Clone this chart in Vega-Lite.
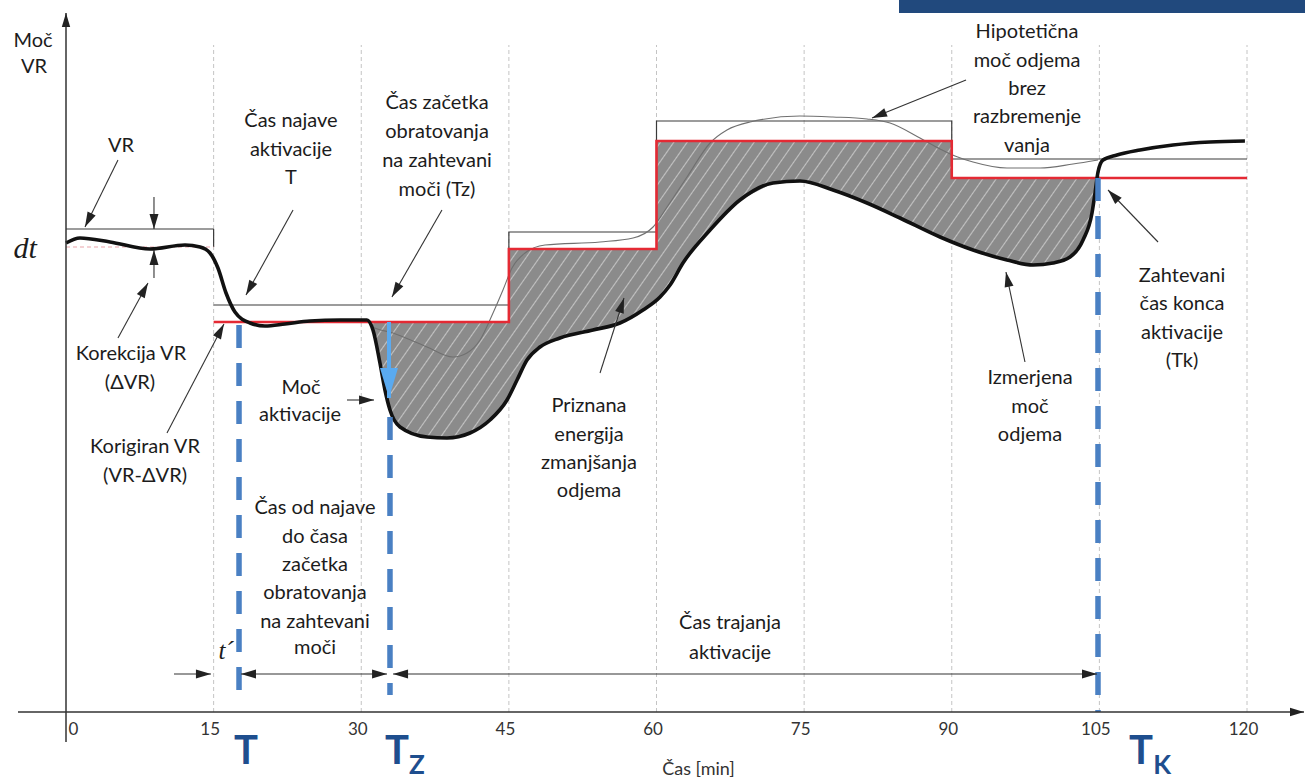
{
"$schema":"https://vega.github.io/schema/vega-lite/v6.json",
"width":1181,"height":700,
"autosize":{"type":"none"},
"padding":{"left":66,"top":12,"right":58,"bottom":67},
"background":"white",
"config":{"view":{"stroke":null}},
"datasets":{
"banner":[{"x":84.64,"tx":126,"y":699,"ty":712}],
"grid":[{"x":15,"y":0,"ty":667},{"x":30,"y":0,"ty":667},{"x":45,"y":0,"ty":667},{"x":60,"y":0,"ty":667},{"x":75,"y":0,"ty":667},{"x":90,"y":0,"ty":667},{"x":105,"y":0,"ty":667},{"x":120,"y":0,"ty":667}],
"area":[{"x":30.70,"y":390,"y2":390},{"x":31.19,"y":382,"y2":390},{"x":31.90,"y":349,"y2":390},{"x":32.41,"y":322,"y2":390},{"x":32.92,"y":302,"y2":390},{"x":33.94,"y":285,"y2":390},{"x":36.68,"y":275,"y2":390},{"x":38.71,"y":274,"y2":390},{"x":41.05,"y":279,"y2":390},{"x":43.08,"y":292,"y2":390},{"x":44.81,"y":312,"y2":390},{"x":44.99,"y":315,"y2":390},{"x":45.00,"y":316,"y2":463},{"x":45.83,"y":332,"y2":463},{"x":46.84,"y":352,"y2":463},{"x":48.16,"y":365,"y2":463},{"x":50.19,"y":374,"y2":463},{"x":53.55,"y":382,"y2":463},{"x":56.29,"y":389,"y2":463},{"x":58.63,"y":402,"y2":463},{"x":59.99,"y":412,"y2":463},{"x":60.00,"y":412,"y2":571},{"x":60.36,"y":415,"y2":571},{"x":61.38,"y":427,"y2":571},{"x":62.69,"y":449,"y2":571},{"x":65.44,"y":482,"y2":571},{"x":68.48,"y":512,"y2":571},{"x":71.84,"y":529,"y2":571},{"x":74.58,"y":531,"y2":571},{"x":77.93,"y":522,"y2":571},{"x":81.39,"y":509,"y2":571},{"x":84.74,"y":494,"y2":571},{"x":88.81,"y":475,"y2":571},{"x":89.99,"y":470,"y2":571},{"x":90.00,"y":470,"y2":534},{"x":92.16,"y":462,"y2":534},{"x":95.61,"y":452,"y2":534},{"x":98.26,"y":447,"y2":534},{"x":100.29,"y":449,"y2":534},{"x":102.02,"y":455,"y2":534},{"x":103.34,"y":472,"y2":534},{"x":104.25,"y":499,"y2":534},{"x":104.56,"y":519,"y2":534},{"x":104.77,"y":534,"y2":534}],
"upper":[{"i":0,"x":15,"y":407},{"i":1,"x":45,"y":407},{"i":2,"x":45,"y":480},{"i":3,"x":60,"y":480},{"i":4,"x":60,"y":591},{"i":5,"x":90,"y":591},{"i":6,"x":90,"y":553},{"i":7,"x":120,"y":553}],
"vr":[{"x":0,"y":483,"tx":15,"ty":483},{"x":15,"y":483,"tx":15,"ty":465}],
"pink":[{"x":0,"y":465,"tx":15,"ty":465}],
"hypo":[{"x":30.89,"y":390},{"x":31.19,"y":385},{"x":33.23,"y":379},{"x":36.68,"y":365},{"x":39.32,"y":355},{"x":40.74,"y":359},{"x":42.07,"y":372},{"x":43.39,"y":399},{"x":44.40,"y":422},{"x":45.32,"y":444},{"x":46.64,"y":459},{"x":48.67,"y":467},{"x":54.26,"y":470},{"x":57.62,"y":474},{"x":59.65,"y":485},{"x":61.07,"y":505},{"x":63.10,"y":535},{"x":65.44,"y":569},{"x":67.16,"y":582},{"x":69.50,"y":590},{"x":74.58,"y":596},{"x":77.93,"y":595},{"x":81.39,"y":593},{"x":83.73,"y":589},{"x":86.77,"y":574},{"x":88.81,"y":563},{"x":90.33,"y":556},{"x":92.16,"y":550},{"x":95.61,"y":544},{"x":98.97,"y":544},{"x":102.32,"y":548},{"x":104.86,"y":552}],
"red":[{"i":0,"x":15,"y":390},{"i":1,"x":45,"y":390},{"i":2,"x":45,"y":463},{"i":3,"x":60,"y":463},{"i":4,"x":60,"y":571},{"i":5,"x":90,"y":571},{"i":6,"x":90,"y":534},{"i":7,"x":120,"y":534}],
"meas":[{"x":0,"y":469},{"x":1.42,"y":474},{"x":4.47,"y":470},{"x":8.54,"y":463},{"x":12.09,"y":467},{"x":13.62,"y":465},{"x":14.63,"y":459},{"x":15.44,"y":444},{"x":16.26,"y":419},{"x":17.17,"y":400},{"x":18.70,"y":389},{"x":20.22,"y":386},{"x":22.25,"y":388},{"x":24.79,"y":391},{"x":27.84,"y":392},{"x":30.58,"y":392},{"x":31.19,"y":382},{"x":31.90,"y":349},{"x":32.41,"y":322},{"x":32.92,"y":302},{"x":33.94,"y":285},{"x":36.68,"y":275},{"x":38.71,"y":274},{"x":41.05,"y":279},{"x":43.08,"y":292},{"x":44.81,"y":312},{"x":45.83,"y":332},{"x":46.84,"y":352},{"x":48.16,"y":365},{"x":50.19,"y":374},{"x":53.55,"y":382},{"x":56.29,"y":389},{"x":58.63,"y":402},{"x":60.36,"y":415},{"x":61.38,"y":427},{"x":62.69,"y":449},{"x":65.44,"y":482},{"x":68.48,"y":512},{"x":71.84,"y":529},{"x":74.58,"y":531},{"x":77.93,"y":522},{"x":81.39,"y":509},{"x":84.74,"y":494},{"x":88.81,"y":475},{"x":92.16,"y":462},{"x":95.61,"y":452},{"x":98.26,"y":447},{"x":100.29,"y":449},{"x":102.02,"y":455},{"x":103.34,"y":472},{"x":104.25,"y":499},{"x":104.56,"y":519},{"x":104.86,"y":540},{"x":105.37,"y":552},{"x":106.79,"y":557},{"x":109.13,"y":562},{"x":112.48,"y":567},{"x":116.24,"y":570},{"x":119.79,"y":571}],
"blines":[{"x":17.58,"y":387,"ty":22},{"x":32.92,"y":295,"ty":17},{"x":104.86,"y":534,"ty":0}],
"arrows":[{"x":1.93,"y":485,"tx":5.28,"ty":552},{"x":8.94,"y":483,"tx":8.94,"ty":515},{"x":8.94,"y":462,"tx":8.94,"ty":434},{"x":8.33,"y":429,"tx":5.28,"ty":374},{"x":16.05,"y":388,"tx":10.26,"ty":279},{"x":18.29,"y":417,"tx":23.07,"ty":502},{"x":33.12,"y":415,"tx":38.20,"ty":502},{"x":31.30,"y":312,"tx":28.55,"ty":312},{"x":56.70,"y":414,"tx":54.26,"ty":339},{"x":81.90,"y":594,"tx":91.45,"ty":632},{"x":95.51,"y":440,"tx":97.44,"ty":350},{"x":105.88,"y":522,"tx":110.96,"ty":470},{"x":14.73,"y":38,"tx":10.97,"ty":38},{"x":17.78,"y":38,"tx":25.2,"ty":38},{"x":32.62,"y":38,"tx":25.2,"ty":38},{"x":33.23,"y":38,"tx":64.42,"ty":38},{"x":104.76,"y":38,"tx":64.42,"ty":38}],
"axes":[{"x":125.79,"y":0,"tx":-4.88,"ty":0},{"x":0,"y":699,"tx":0,"ty":-30}],
"blue":[{"x":32.82,"y":314,"tx":32.82,"ty":390}],
"texts":[{"x":-3.35,"y":671,"label":"Moč"},{"x":-3.25,"y":645,"label":"VR"},{"x":5.59,"y":566,"label":"VR"},{"x":22.86,"y":591,"label":"Čas najave"},{"x":22.86,"y":562,"label":"aktivacije"},{"x":22.86,"y":534,"label":"T"},{"x":37.70,"y":609,"label":"Čas začetka"},{"x":37.70,"y":580,"label":"obratovanja"},{"x":37.70,"y":551,"label":"na zahtevani"},{"x":37.70,"y":522,"label":"moči (Tz)"},{"x":6.60,"y":358,"label":"Korekcija VR"},{"x":6.50,"y":329,"label":"(ΔVR)"},{"x":8.03,"y":265,"label":"Korigiran VR"},{"x":8.03,"y":236,"label":"(VR-ΔVR)"},{"x":23.88,"y":324,"label":"Moč"},{"x":23.78,"y":297,"label":"aktivacije"},{"x":53.14,"y":306,"label":"Priznana"},{"x":53.14,"y":277,"label":"energija"},{"x":53.14,"y":249,"label":"zmanjšanja"},{"x":53.14,"y":221,"label":"odjema"},{"x":97.65,"y":680,"label":"Hipotetična"},{"x":97.65,"y":651,"label":"moč odjema"},{"x":97.65,"y":623,"label":"brez"},{"x":97.65,"y":595,"label":"razbremenje"},{"x":97.65,"y":566,"label":"vanja"},{"x":97.95,"y":334,"label":"Izmerjena"},{"x":97.95,"y":305,"label":"moč"},{"x":97.95,"y":277,"label":"odjema"},{"x":113.40,"y":436,"label":"Zahtevani"},{"x":113.40,"y":408,"label":"čas konca"},{"x":113.40,"y":379,"label":"aktivacije"},{"x":113.40,"y":351,"label":"(Tk)"},{"x":25.30,"y":204,"label":"Čas od najave"},{"x":25.30,"y":175,"label":"do časa"},{"x":25.30,"y":147,"label":"začetka"},{"x":25.30,"y":119,"label":"obratovanja"},{"x":25.30,"y":90,"label":"na zahtevani"},{"x":25.30,"y":64,"label":"moči"},{"x":67.47,"y":89,"label":"Čas trajanja"},{"x":67.47,"y":59,"label":"aktivacije"}],
"tprime":[{"x":16.26,"y":61,"label":"t´"}],
"dt":[{"x":-2.95,"y":463,"label":"dt"}],
"big":[{"x":18.29,"y":-40,"label":"T"},{"x":33.63,"y":-40,"label":"T"},{"x":109.23,"y":-40,"label":"T"}],
"sub":[{"x":35.66,"y":-54,"label":"Z"},{"x":111.37,"y":-54,"label":"K"}]
},
"encoding":{
"x":{"field":"x","type":"quantitative","scale":{"domain":[0,120],"nice":false,"zero":false},
"axis":{"values":[0,15,30,45,60,75,90,105,120],"domain":false,"ticks":false,"grid":false,"labelFlush":false,"labelOverlap":false,"labelFont":"Lato","labelFontSize":17,"labelColor":"#333333","labelPadding":9,
"labelOffset":{"condition":{"test":"datum.value === 0","value":2},"value":-4},
"labelAlign":{"condition":{"test":"datum.value === 0","value":"left"},"value":"center"},
"title":"Čas [min]","titleFont":"Lato","titleFontSize":18,"titleFontWeight":"normal","titleColor":"#333333","titleX":632,"titleY":57,"titleBaseline":"middle","titleAlign":"center"}},
"y":{"field":"y","type":"quantitative","scale":{"domain":[0,700],"nice":false,"zero":false},"axis":null}
},
"layer":[
{"data":{"name":"banner"},"mark":{"type":"rect","color":"#21497d"},"encoding":{"x2":{"field":"tx"},"y2":{"field":"ty"}}},
{"data":{"name":"grid"},"mark":{"type":"rule","color":"#c4c4c4","strokeWidth":1,"strokeDash":[4,3]},"encoding":{"y2":{"field":"ty"}}},
{"data":{"name":"area"},"mark":{"type":"area","interpolate":"linear","color":{"gradient":"linear","x1":0,"y1":0,"x2":1.1886,"y2":0.3391,"stops":[
{"offset":0,"color":"#8b8b8b"},{"offset":0.0114,"color":"#8b8b8b"},{"offset":0.0129,"color":"#c2c2c2"},
{"offset":0.0143,"color":"#8b8b8b"},{"offset":0.0257,"color":"#8b8b8b"},{"offset":0.0271,"color":"#c2c2c2"},
{"offset":0.0286,"color":"#8b8b8b"},{"offset":0.0400,"color":"#8b8b8b"},{"offset":0.0414,"color":"#c2c2c2"},
{"offset":0.0429,"color":"#8b8b8b"},{"offset":0.0543,"color":"#8b8b8b"},{"offset":0.0557,"color":"#c2c2c2"},
{"offset":0.0571,"color":"#8b8b8b"},{"offset":0.0686,"color":"#8b8b8b"},{"offset":0.0700,"color":"#c2c2c2"},
{"offset":0.0714,"color":"#8b8b8b"},{"offset":0.0829,"color":"#8b8b8b"},{"offset":0.0843,"color":"#c2c2c2"},
{"offset":0.0857,"color":"#8b8b8b"},{"offset":0.0971,"color":"#8b8b8b"},{"offset":0.0986,"color":"#c2c2c2"},
{"offset":0.1000,"color":"#8b8b8b"},{"offset":0.1114,"color":"#8b8b8b"},{"offset":0.1129,"color":"#c2c2c2"},
{"offset":0.1143,"color":"#8b8b8b"},{"offset":0.1257,"color":"#8b8b8b"},{"offset":0.1271,"color":"#c2c2c2"},
{"offset":0.1286,"color":"#8b8b8b"},{"offset":0.1400,"color":"#8b8b8b"},{"offset":0.1414,"color":"#c2c2c2"},
{"offset":0.1429,"color":"#8b8b8b"},{"offset":0.1543,"color":"#8b8b8b"},{"offset":0.1557,"color":"#c2c2c2"},
{"offset":0.1571,"color":"#8b8b8b"},{"offset":0.1686,"color":"#8b8b8b"},{"offset":0.1700,"color":"#c2c2c2"},
{"offset":0.1714,"color":"#8b8b8b"},{"offset":0.1829,"color":"#8b8b8b"},{"offset":0.1843,"color":"#c2c2c2"},
{"offset":0.1857,"color":"#8b8b8b"},{"offset":0.1971,"color":"#8b8b8b"},{"offset":0.1986,"color":"#c2c2c2"},
{"offset":0.2000,"color":"#8b8b8b"},{"offset":0.2114,"color":"#8b8b8b"},{"offset":0.2129,"color":"#c2c2c2"},
{"offset":0.2143,"color":"#8b8b8b"},{"offset":0.2257,"color":"#8b8b8b"},{"offset":0.2271,"color":"#c2c2c2"},
{"offset":0.2286,"color":"#8b8b8b"},{"offset":0.2400,"color":"#8b8b8b"},{"offset":0.2414,"color":"#c2c2c2"},
{"offset":0.2429,"color":"#8b8b8b"},{"offset":0.2543,"color":"#8b8b8b"},{"offset":0.2557,"color":"#c2c2c2"},
{"offset":0.2571,"color":"#8b8b8b"},{"offset":0.2686,"color":"#8b8b8b"},{"offset":0.2700,"color":"#c2c2c2"},
{"offset":0.2714,"color":"#8b8b8b"},{"offset":0.2829,"color":"#8b8b8b"},{"offset":0.2843,"color":"#c2c2c2"},
{"offset":0.2857,"color":"#8b8b8b"},{"offset":0.2971,"color":"#8b8b8b"},{"offset":0.2986,"color":"#c2c2c2"},
{"offset":0.3000,"color":"#8b8b8b"},{"offset":0.3114,"color":"#8b8b8b"},{"offset":0.3129,"color":"#c2c2c2"},
{"offset":0.3143,"color":"#8b8b8b"},{"offset":0.3257,"color":"#8b8b8b"},{"offset":0.3271,"color":"#c2c2c2"},
{"offset":0.3286,"color":"#8b8b8b"},{"offset":0.3400,"color":"#8b8b8b"},{"offset":0.3414,"color":"#c2c2c2"},
{"offset":0.3429,"color":"#8b8b8b"},{"offset":0.3543,"color":"#8b8b8b"},{"offset":0.3557,"color":"#c2c2c2"},
{"offset":0.3571,"color":"#8b8b8b"},{"offset":0.3686,"color":"#8b8b8b"},{"offset":0.3700,"color":"#c2c2c2"},
{"offset":0.3714,"color":"#8b8b8b"},{"offset":0.3829,"color":"#8b8b8b"},{"offset":0.3843,"color":"#c2c2c2"},
{"offset":0.3857,"color":"#8b8b8b"},{"offset":0.3971,"color":"#8b8b8b"},{"offset":0.3986,"color":"#c2c2c2"},
{"offset":0.4000,"color":"#8b8b8b"},{"offset":0.4114,"color":"#8b8b8b"},{"offset":0.4129,"color":"#c2c2c2"},
{"offset":0.4143,"color":"#8b8b8b"},{"offset":0.4257,"color":"#8b8b8b"},{"offset":0.4271,"color":"#c2c2c2"},
{"offset":0.4286,"color":"#8b8b8b"},{"offset":0.4400,"color":"#8b8b8b"},{"offset":0.4414,"color":"#c2c2c2"},
{"offset":0.4429,"color":"#8b8b8b"},{"offset":0.4543,"color":"#8b8b8b"},{"offset":0.4557,"color":"#c2c2c2"},
{"offset":0.4571,"color":"#8b8b8b"},{"offset":0.4686,"color":"#8b8b8b"},{"offset":0.4700,"color":"#c2c2c2"},
{"offset":0.4714,"color":"#8b8b8b"},{"offset":0.4829,"color":"#8b8b8b"},{"offset":0.4843,"color":"#c2c2c2"},
{"offset":0.4857,"color":"#8b8b8b"},{"offset":0.4971,"color":"#8b8b8b"},{"offset":0.4986,"color":"#c2c2c2"},
{"offset":0.5000,"color":"#8b8b8b"},{"offset":0.5114,"color":"#8b8b8b"},{"offset":0.5129,"color":"#c2c2c2"},
{"offset":0.5143,"color":"#8b8b8b"},{"offset":0.5257,"color":"#8b8b8b"},{"offset":0.5271,"color":"#c2c2c2"},
{"offset":0.5286,"color":"#8b8b8b"},{"offset":0.5400,"color":"#8b8b8b"},{"offset":0.5414,"color":"#c2c2c2"},
{"offset":0.5429,"color":"#8b8b8b"},{"offset":0.5543,"color":"#8b8b8b"},{"offset":0.5557,"color":"#c2c2c2"},
{"offset":0.5571,"color":"#8b8b8b"},{"offset":0.5686,"color":"#8b8b8b"},{"offset":0.5700,"color":"#c2c2c2"},
{"offset":0.5714,"color":"#8b8b8b"},{"offset":0.5829,"color":"#8b8b8b"},{"offset":0.5843,"color":"#c2c2c2"},
{"offset":0.5857,"color":"#8b8b8b"},{"offset":0.5971,"color":"#8b8b8b"},{"offset":0.5986,"color":"#c2c2c2"},
{"offset":0.6000,"color":"#8b8b8b"},{"offset":0.6114,"color":"#8b8b8b"},{"offset":0.6129,"color":"#c2c2c2"},
{"offset":0.6143,"color":"#8b8b8b"},{"offset":0.6257,"color":"#8b8b8b"},{"offset":0.6271,"color":"#c2c2c2"},
{"offset":0.6286,"color":"#8b8b8b"},{"offset":0.6400,"color":"#8b8b8b"},{"offset":0.6414,"color":"#c2c2c2"},
{"offset":0.6429,"color":"#8b8b8b"},{"offset":0.6543,"color":"#8b8b8b"},{"offset":0.6557,"color":"#c2c2c2"},
{"offset":0.6571,"color":"#8b8b8b"},{"offset":0.6686,"color":"#8b8b8b"},{"offset":0.6700,"color":"#c2c2c2"},
{"offset":0.6714,"color":"#8b8b8b"},{"offset":0.6829,"color":"#8b8b8b"},{"offset":0.6843,"color":"#c2c2c2"},
{"offset":0.6857,"color":"#8b8b8b"},{"offset":0.6971,"color":"#8b8b8b"},{"offset":0.6986,"color":"#c2c2c2"},
{"offset":0.7000,"color":"#8b8b8b"},{"offset":0.7114,"color":"#8b8b8b"},{"offset":0.7129,"color":"#c2c2c2"},
{"offset":0.7143,"color":"#8b8b8b"},{"offset":0.7257,"color":"#8b8b8b"},{"offset":0.7271,"color":"#c2c2c2"},
{"offset":0.7286,"color":"#8b8b8b"},{"offset":0.7400,"color":"#8b8b8b"},{"offset":0.7414,"color":"#c2c2c2"},
{"offset":0.7429,"color":"#8b8b8b"},{"offset":0.7543,"color":"#8b8b8b"},{"offset":0.7557,"color":"#c2c2c2"},
{"offset":0.7571,"color":"#8b8b8b"},{"offset":0.7686,"color":"#8b8b8b"},{"offset":0.7700,"color":"#c2c2c2"},
{"offset":0.7714,"color":"#8b8b8b"},{"offset":0.7829,"color":"#8b8b8b"},{"offset":0.7843,"color":"#c2c2c2"},
{"offset":0.7857,"color":"#8b8b8b"},{"offset":0.7971,"color":"#8b8b8b"},{"offset":0.7986,"color":"#c2c2c2"},
{"offset":0.8000,"color":"#8b8b8b"},{"offset":0.8114,"color":"#8b8b8b"},{"offset":0.8129,"color":"#c2c2c2"},
{"offset":0.8143,"color":"#8b8b8b"},{"offset":0.8257,"color":"#8b8b8b"},{"offset":0.8271,"color":"#c2c2c2"},
{"offset":0.8286,"color":"#8b8b8b"},{"offset":0.8400,"color":"#8b8b8b"},{"offset":0.8414,"color":"#c2c2c2"},
{"offset":0.8429,"color":"#8b8b8b"},{"offset":0.8543,"color":"#8b8b8b"},{"offset":0.8557,"color":"#c2c2c2"},
{"offset":0.8571,"color":"#8b8b8b"},{"offset":0.8686,"color":"#8b8b8b"},{"offset":0.8700,"color":"#c2c2c2"},
{"offset":0.8714,"color":"#8b8b8b"},{"offset":0.8829,"color":"#8b8b8b"},{"offset":0.8843,"color":"#c2c2c2"},
{"offset":0.8857,"color":"#8b8b8b"},{"offset":0.8971,"color":"#8b8b8b"},{"offset":0.8986,"color":"#c2c2c2"},
{"offset":0.9000,"color":"#8b8b8b"},{"offset":0.9114,"color":"#8b8b8b"},{"offset":0.9129,"color":"#c2c2c2"},
{"offset":0.9143,"color":"#8b8b8b"},{"offset":0.9257,"color":"#8b8b8b"},{"offset":0.9271,"color":"#c2c2c2"},
{"offset":0.9286,"color":"#8b8b8b"},{"offset":0.9400,"color":"#8b8b8b"},{"offset":0.9414,"color":"#c2c2c2"},
{"offset":0.9429,"color":"#8b8b8b"},{"offset":0.9543,"color":"#8b8b8b"},{"offset":0.9557,"color":"#c2c2c2"},
{"offset":0.9571,"color":"#8b8b8b"},{"offset":0.9686,"color":"#8b8b8b"},{"offset":0.9700,"color":"#c2c2c2"},
{"offset":0.9714,"color":"#8b8b8b"},{"offset":0.9829,"color":"#8b8b8b"},{"offset":0.9843,"color":"#c2c2c2"},
{"offset":0.9857,"color":"#8b8b8b"},{"offset":0.9971,"color":"#8b8b8b"},{"offset":0.9986,"color":"#c2c2c2"},
{"offset":1,"color":"#8b8b8b"}]}},"encoding":{"y2":{"field":"y2"}}},
{"data":{"name":"upper"},"mark":{"type":"line","color":"#3a3a3a","strokeWidth":1.2},"encoding":{"order":{"field":"i","type":"quantitative"}}},
{"data":{"name":"vr"},"mark":{"type":"rule","color":"#3a3a3a","strokeWidth":1.2},"encoding":{"x2":{"field":"tx"},"y2":{"field":"ty"}}},
{"data":{"name":"pink"},"mark":{"type":"rule","color":"#e9a3aa","strokeWidth":1.2,"strokeDash":[4,3]},"encoding":{"x2":{"field":"tx"},"y2":{"field":"ty"}}},
{"data":{"name":"hypo"},"mark":{"type":"line","color":"#707070","strokeWidth":1.1,"interpolate":"monotone"},"encoding":{}},
{"data":{"name":"red"},"mark":{"type":"line","color":"#e42a34","strokeWidth":2.6},"encoding":{"order":{"field":"i","type":"quantitative"}}},
{"data":{"name":"meas"},"mark":{"type":"line","color":"#111111","strokeWidth":3.6,"interpolate":"monotone"},"encoding":{}},
{"data":{"name":"blines"},"mark":{"type":"rule","color":"#4a80c3","strokeWidth":5.5,"strokeDash":[23,15]},"encoding":{"y2":{"field":"ty"}}},
{"data":{"name":"arrows"},"mark":{"type":"rule","color":"#333333","strokeWidth":1.1},"encoding":{"x2":{"field":"tx"},"y2":{"field":"ty"}}},
{"data":{"name":"arrows"},"transform":[{"calculate":"atan2((datum.x - datum.tx) * 9.8417, datum.y - datum.ty) * 180 / PI","as":"ang"}],"mark":{"type":"point","shape":"M0,0L-0.3,1L0.3,1Z","filled":true,"size":900,"color":"#222222","opacity":1,"strokeWidth":0},"encoding":{"angle":{"field":"ang","type":"quantitative","scale":null}}},
{"data":{"name":"axes"},"mark":{"type":"rule","color":"#333333","strokeWidth":1.5},"encoding":{"x2":{"field":"tx"},"y2":{"field":"ty"}}},
{"data":{"name":"axes"},"transform":[{"calculate":"atan2((datum.x - datum.tx) * 9.8417, datum.y - datum.ty) * 180 / PI","as":"ang"}],"mark":{"type":"point","shape":"M0,0L-0.3,1L0.3,1Z","filled":true,"size":784,"color":"#222222","opacity":1,"strokeWidth":0},"encoding":{"angle":{"field":"ang","type":"quantitative","scale":null}}},
{"data":{"name":"blue"},"mark":{"type":"rule","color":"#5aaaf0","strokeWidth":4},"encoding":{"x2":{"field":"tx"},"y2":{"field":"ty"}}},
{"data":{"name":"blue"},"transform":[{"calculate":"atan2((datum.x - datum.tx) * 9.8417, datum.y - datum.ty) * 180 / PI","as":"ang"}],"mark":{"type":"point","shape":"M0,0L-0.3,1L0.3,1Z","filled":true,"size":3600,"color":"#5aaaf0","opacity":1,"strokeWidth":0},"encoding":{"angle":{"field":"ang","type":"quantitative","scale":null}}},
{"data":{"name":"texts"},"mark":{"type":"text","font":"Lato","fontSize":20,"color":"#1c1c1c","align":"center","baseline":"middle"},"encoding":{"text":{"field":"label"}}},
{"data":{"name":"tprime"},"mark":{"type":"text","font":"Liberation Serif","fontStyle":"italic","fontSize":25,"color":"#1c1c1c","align":"center","baseline":"middle"},"encoding":{"text":{"field":"label"}}},
{"data":{"name":"dt"},"mark":{"type":"text","font":"Liberation Serif","fontStyle":"italic","fontSize":30,"color":"#1c1c1c","align":"right","baseline":"middle"},"encoding":{"text":{"field":"label"}}},
{"data":{"name":"big"},"mark":{"type":"text","font":"Lato","fontWeight":"bold","fontSize":40,"color":"#1e4e8e","align":"center","baseline":"middle"},"encoding":{"text":{"field":"label"}}},
{"data":{"name":"sub"},"mark":{"type":"text","font":"Lato","fontWeight":"bold","fontSize":26,"color":"#1e4e8e","align":"center","baseline":"middle"},"encoding":{"text":{"field":"label"}}}
]
}
